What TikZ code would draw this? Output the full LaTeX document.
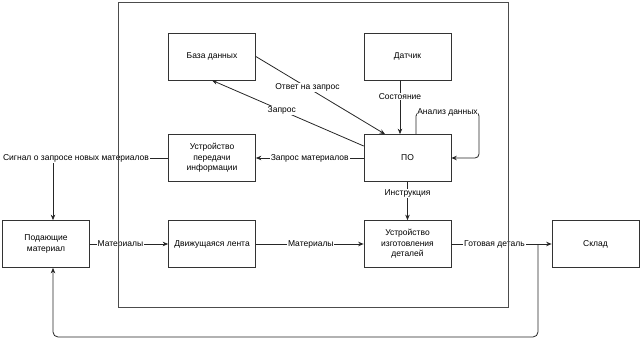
\documentclass[tikz,border=0pt]{standalone}
\usepackage{fontspec}
\setmainfont{Liberation Sans}
\usetikzlibrary{arrows.meta,calc}
\begin{document}
\begin{tikzpicture}[x=1pt,y=-1pt,
  txt/.style={font=\fontsize{8.5}{10.5}\selectfont, text=black},
  box/.style={txt, draw=black!80, line width=0.7pt, minimum width=87pt, minimum height=47pt, align=center, inner sep=1pt},
  lbl/.style={txt, fill=white, inner sep=0.8pt},
  arr/.style={draw=black!85, line width=0.8pt, -{Stealth[length=5.5pt,width=4.5pt]}},
  frameline/.style={draw=black!70, line width=0.7pt}]
\useasboundingbox (0,0) rectangle (643,348);
% boxes
\node[box] (db) at (212,56.5) {База данных};
\node[box] (sensor) at (407.5,56.5) {Датчик};
\node[box] (trans) at (212,158) {Устройство\\передачи\\информации};
\node[box] (po) at (407.5,158) {ПО};
\node[box] (feed) at (46,244) {Подающие\\материал};
\node[box] (belt) at (212,244) {Движущаяся лента};
\node[box] (make) at (407.5,244) {Устройство\\изготовления\\деталей};
\node[box] (store) at (595.5,244) {Склад};
% connectors
\draw[arr] (db.east) -- ([xshift=-22.5pt]po.north) node[lbl,pos=0.4]{Ответ на запрос};
\draw[arr] ([yshift=12pt]po.west) -- (db.south) node[lbl,pos=0.54]{Запрос};
\draw[arr] ([xshift=-7.5pt]sensor.south) -- ([xshift=-7.5pt]po.north) node[lbl,pos=0.3]{Состояние};
\draw[arr, rounded corners=4pt] ([xshift=8.5pt]po.north) -- ++(0,-22) -- (479,112) node[lbl,midway]{Анализ данных} -- (479,158) -- (po.east);
\draw[arr] (po.west) -- (trans.east) node[lbl,midway]{Запрос материалов};
\draw[arr] (trans.west) -| ([xshift=7pt]feed.north) node[lbl,pos=0.4]{Сигнал о запросе новых материалов};
\draw[arr] (po.south) -- (make.north) node[lbl,pos=0.3]{Инструкция};
\draw[arr] (feed.east) -- (belt.west) node[lbl,pos=0.39]{Материалы};
\draw[arr] (belt.east) -- (make.west) node[lbl,pos=0.51]{Материалы};
\draw[arr] (make.east) -- (store.west) node[lbl,pos=0.43]{Готовая деталь};
\coordinate (split) at (538,244);
\draw[arr, rounded corners=5pt] (split) -- (538,337) -| ([xshift=7pt]feed.south);
% outer frame
\draw[frameline] (118,2.5) rectangle (508.5,307);
\end{tikzpicture}
\end{document}
